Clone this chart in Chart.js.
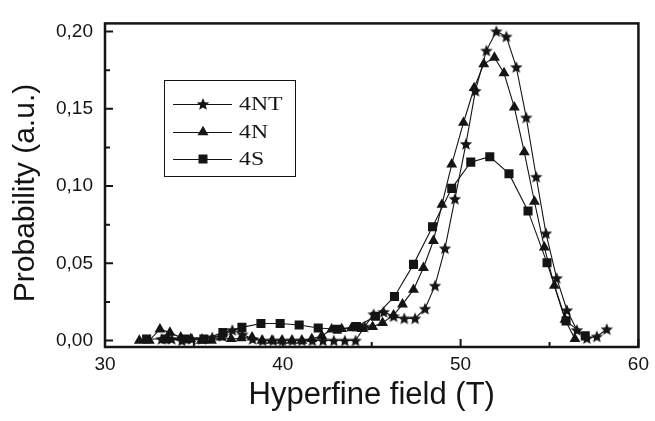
<!DOCTYPE html>
<html lang="en">
<head>
<meta charset="UTF-8">
<title>Hyperfine field distribution</title>
<script src="https://cdn.jsdelivr.net/npm/chart.js"></script>
<style>
  html, body { margin: 0; padding: 0; background: #fff; }
</style>
</head>
<body>
<canvas id="chart" width="655" height="421"></canvas>
<script>
// --- data ---
const seriesNames = ["4NT", "4N", "4S"];

const x4NT = [33.18, 33.75, 34.32, 34.89, 35.46, 36.03, 36.60, 37.16, 37.73, 38.30,
              38.87, 39.46, 39.98, 40.54, 41.07, 41.66, 42.26, 42.87, 43.49, 44.09,
              44.60, 45.11, 45.67, 46.23, 46.83, 47.44, 48.00, 48.56, 49.12, 49.68,
              50.30, 50.83, 51.45, 52.01, 52.57, 53.13, 53.69, 54.25, 54.80, 55.40,
              55.98, 56.54, 57.10, 57.66, 58.22];
const y4NT = [0.001, 0.001, 0.000, 0.001, 0.001, 0.002, 0.003, 0.0068, 0.004, 0.001,
              0.000, 0.000, 0.000, 0.000, 0.000, 0.000, 0.000, 0.000, 0.000, 0.000,
              0.009, 0.017, 0.0185, 0.0157, 0.0143, 0.0143, 0.0206, 0.0355, 0.0597, 0.0917,
              0.1273, 0.1616, 0.1877, 0.2002, 0.1968, 0.177, 0.1444, 0.106, 0.0694, 0.0404,
              0.0196, 0.0068, 0.0015, 0.0026, 0.0073];

const x4N = [31.93, 32.49, 33.09, 33.65, 34.26, 34.82, 35.42, 35.98, 36.54, 37.10,
             37.66, 38.27, 38.83, 39.39, 39.95, 40.51, 41.07, 41.63, 42.19, 42.75,
             43.31, 43.87, 44.46, 45.05, 45.61, 46.23, 46.73, 47.35, 47.91, 48.47,
             48.95, 49.50, 50.16, 50.76, 51.30, 51.90, 52.44, 53.02, 53.58, 54.15,
             54.71, 55.27, 55.87, 56.43];
const y4N = [0.000, 0.000, 0.0073, 0.0051, 0.002, 0.001, 0.000, 0.000, 0.002, 0.001,
             0.0015, 0.002, 0.000, 0.000, 0.000, 0.000, 0.000, 0.001, 0.003, 0.0072,
             0.0075, 0.008, 0.0075, 0.0089, 0.0115, 0.0164, 0.0234, 0.0329, 0.0471, 0.0646,
             0.088, 0.114, 0.141, 0.1635, 0.179, 0.1832, 0.1732, 0.151, 0.122, 0.090,
             0.0603, 0.0355, 0.0136, 0.001];

const x4S = [32.34, 33.41, 34.48, 35.56, 36.63, 37.70, 38.77, 39.85, 40.92, 41.99,
             43.06, 44.14, 45.21, 46.28, 47.35, 48.42, 49.50, 50.57, 51.64, 52.72,
             53.79, 54.86, 55.93, 57.01];
const y4S = [0.001, 0.001, 0.001, 0.001, 0.0051, 0.0085, 0.011, 0.011, 0.010, 0.0081,
             0.0073, 0.009, 0.0157, 0.0285, 0.0493, 0.0737, 0.0985, 0.1155, 0.119, 0.108,
             0.0839, 0.0503, 0.0127, 0.003];

const xTicks = [30, 40, 50, 60];
const xMinorTicks = [35, 45, 55];
const yTicks = [0, 0.05, 0.10, 0.15, 0.20];
const yMinorTicks = [0.025, 0.075, 0.125, 0.175];

const yTitle = "Probability (a.u.)";

const ink = "#141414";
const sans = "'Liberation Sans', Arial, sans-serif";
const serif = "'Liberation Serif', 'Times New Roman', serif";

// filled five point star, chart.js only has an asterisk "star"
function makeStar(r) {
    const s = 16;
    const c = document.createElement("canvas");
    c.width = s; c.height = s;
    const g = c.getContext("2d");
    g.fillStyle = ink;
    g.beginPath();
    for (let i = 0; i < 10; i++) {
        const rr = i % 2 ? r * 0.45 : r;
        const a = -Math.PI / 2 + i * Math.PI / 5;
        g.lineTo(s / 2 + rr * Math.cos(a), s / 2 + 0.6 + rr * Math.sin(a));
    }
    g.closePath();
    g.fill();
    return c;
}
const starImg = makeStar(6.5);

function pts(xs, ys) {
    return xs.map((x, i) => ({ x: x, y: ys[i] }));
}

function markerAt(ctx, style, x, y) {
    ctx.fillStyle = ink;
    if (style === "star") {
        ctx.drawImage(starImg, x - starImg.width / 2, y - starImg.height / 2);
    } else if (style === "triangle") {
        const r = 6.3;
        ctx.beginPath();
        ctx.moveTo(x, y - r);
        ctx.lineTo(x + r * 0.866, y + r / 2);
        ctx.lineTo(x - r * 0.866, y + r / 2);
        ctx.closePath();
        ctx.fill();
    } else {
        ctx.fillRect(x - 4.5, y - 4.5, 9, 9);
    }
}

const framePlugin = {
    id: "frame",
    afterDraw(chart) {
        const ctx = chart.ctx;
        const a = chart.chartArea;
        const xs = chart.scales.x, ys = chart.scales.y;
        ctx.save();
        ctx.strokeStyle = ink;
        ctx.lineWidth = 2.5;
        ctx.strokeRect(a.left, a.top, a.right - a.left, a.bottom - a.top);

        // inward ticks on left and bottom
        ctx.lineWidth = 2;
        ctx.beginPath();
        xTicks.forEach(v => { const p = xs.getPixelForValue(v); ctx.moveTo(p, a.bottom); ctx.lineTo(p, a.bottom - 8); });
        xMinorTicks.forEach(v => { const p = xs.getPixelForValue(v); ctx.moveTo(p, a.bottom); ctx.lineTo(p, a.bottom - 5); });
        yTicks.forEach(v => { const p = ys.getPixelForValue(v); ctx.moveTo(a.left, p); ctx.lineTo(a.left + 8, p); });
        yMinorTicks.forEach(v => { const p = ys.getPixelForValue(v); ctx.moveTo(a.left, p); ctx.lineTo(a.left + 5, p); });
        ctx.stroke();

        // y title, sits a bit below the middle of the axis in the original
        ctx.save();
        ctx.translate(26, 193);
        ctx.rotate(-Math.PI / 2);
        ctx.font = "30px " + sans;
        ctx.textAlign = "center";
        ctx.textBaseline = "middle";
        ctx.fillStyle = ink;
        ctx.fillText(yTitle, 0, 0);
        ctx.restore();

        // legend box
        const styles = ["star", "triangle", "rect"];
        const rows = [104, 132, 159];
        ctx.lineWidth = 1;
        ctx.strokeRect(164.5, 80.5, 131, 96);
        ctx.font = "19px " + serif;
        ctx.textBaseline = "middle";
        seriesNames.forEach((name, i) => {
            const y = rows[i];
            ctx.beginPath();
            ctx.moveTo(173, y + 0.5);
            ctx.lineTo(232, y + 0.5);
            ctx.stroke();
            markerAt(ctx, styles[i], 203, y);
            ctx.save();
            ctx.translate(239, y + 1);
            ctx.scale(1.25, 1);
            ctx.fillStyle = ink;
            ctx.fillText(name, 0, 0);
            ctx.restore();
        });
        ctx.restore();
    }
};

new Chart(document.getElementById("chart"), {
    type: "scatter",
    data: {
        datasets: [
            { label: seriesNames[0], data: pts(x4NT, y4NT), showLine: true, borderColor: ink, borderWidth: 1.1,
              pointStyle: starImg, pointRadius: 6, backgroundColor: ink },
            { label: seriesNames[1], data: pts(x4N, y4N), showLine: true, borderColor: ink, borderWidth: 1.1,
              pointStyle: "triangle", pointRadius: 6.3, backgroundColor: ink, pointBorderWidth: 0 },
            { label: seriesNames[2], data: pts(x4S, y4S), showLine: true, borderColor: ink, borderWidth: 1.1,
              pointStyle: "rect", pointRadius: 6.4, backgroundColor: ink, pointBorderWidth: 0 }
        ]
    },
    options: {
        responsive: false,
        animation: false,
        layout: { padding: { top: 18, right: 14, left: 0, bottom: 0 } },
        plugins: { legend: { display: false }, tooltip: { enabled: false } },
        scales: {
            x: {
                type: "linear", min: 30, max: 60,
                grid: { display: false, drawTicks: false },
                border: { display: false },
                afterBuildTicks: s => { s.ticks = xTicks.map(v => ({ value: v })); },
                afterFit: s => { s.height = 74; },
                ticks: { font: { family: sans, size: 19 }, color: ink, padding: 6, maxRotation: 0 },
                title: { display: true, text: "Hyperfine field (T)", color: ink,
                         font: { family: sans, size: 31 }, padding: { top: 0, bottom: 7 } }
            },
            y: {
                min: -0.0042, max: 0.2053,
                grid: { display: false, drawTicks: false },
                border: { display: false },
                afterBuildTicks: s => { s.ticks = yTicks.map(v => ({ value: v })); },
                afterFit: s => { s.width = 105; },
                ticks: { font: { family: sans, size: 19 }, color: ink, padding: 12,
                         callback: v => v.toFixed(2).replace(".", ",") }
            }
        }
    },
    plugins: [framePlugin]
});
</script>
</body>
</html>
